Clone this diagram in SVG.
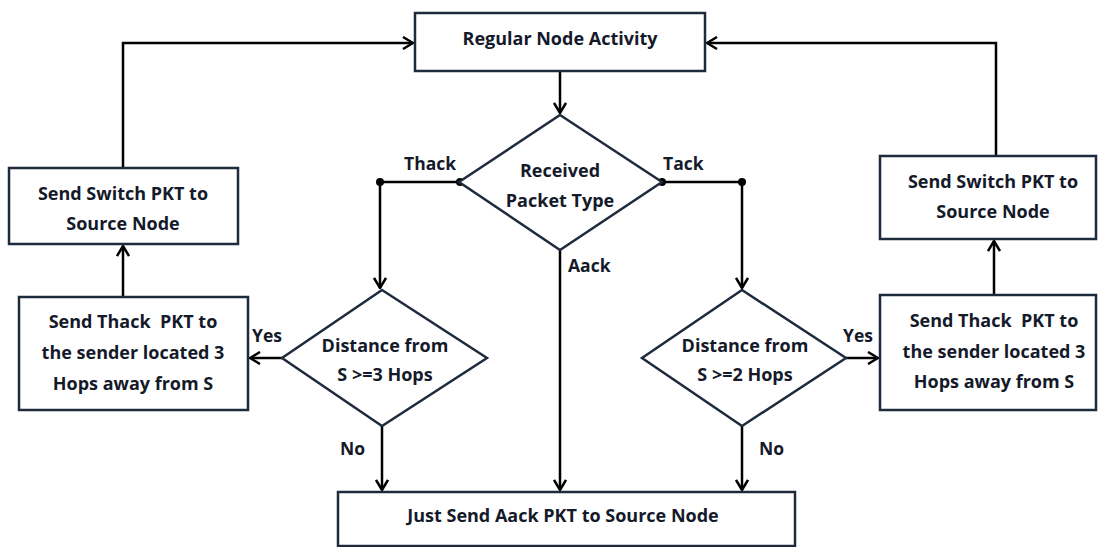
<svg xmlns="http://www.w3.org/2000/svg" width="1103" height="547" viewBox="0 0 1103 547">
  <style>
    .box { fill: #ffffff; stroke: #1e2b3c; stroke-width: 2.5; }
    .t { font-family: "Open Sans", Lato, sans-serif; font-weight: bold; font-size: 18px; fill: #141a2a; text-anchor: middle; white-space: pre; }
    .lbl { font-family: "Open Sans", Lato, sans-serif; font-weight: bold; font-size: 17.5px; fill: #141a2a; }
    .wire { fill: none; stroke: #000000; stroke-width: 2.5; }
    .dot { fill: #000000; }
  </style>
  <defs>
    <marker id="chev" viewBox="0 0 12 14" refX="11" refY="7" markerWidth="12" markerHeight="14" markerUnits="userSpaceOnUse" orient="auto">
      <path d="M1,1 L11,7 L1,13" fill="none" stroke="#000000" stroke-width="2.5"/>
    </marker>
  </defs>
  <rect width="1103" height="547" fill="#ffffff"/>

  <g id="connectors">
    <!-- top box to decision -->
    <path class="wire" d="M560,72 V113" marker-end="url(#chev)"/>
    <!-- Thack branch -->
    <path class="wire" d="M460,182 H380 V288" marker-end="url(#chev)"/>
    <!-- Tack branch -->
    <path class="wire" d="M662,182 H742 V288" marker-end="url(#chev)"/>
    <!-- Aack branch -->
    <path class="wire" d="M560,250 V490" marker-end="url(#chev)"/>
    <!-- No branches -->
    <path class="wire" d="M382,426 V490" marker-end="url(#chev)"/>
    <path class="wire" d="M742,426 V490" marker-end="url(#chev)"/>
    <!-- Yes branches -->
    <path class="wire" d="M282,358 H250" marker-end="url(#chev)"/>
    <path class="wire" d="M846,358 H878" marker-end="url(#chev)"/>
    <!-- Thack boxes up to switch boxes -->
    <path class="wire" d="M123,297 V246" marker-end="url(#chev)"/>
    <path class="wire" d="M994,295 V241" marker-end="url(#chev)"/>
    <!-- switch boxes back to regular activity -->
    <path class="wire" d="M123,168 V43 H413" marker-end="url(#chev)"/>
    <path class="wire" d="M996,156 V43 H707" marker-end="url(#chev)"/>
    <circle class="dot" cx="380" cy="182" r="4"/>
    <circle class="dot" cx="460" cy="182" r="4"/>
    <circle class="dot" cx="662" cy="182" r="4"/>
    <circle class="dot" cx="742" cy="182" r="4"/>
  </g>

  <g id="labels">
    <text class="lbl" x="404" y="170">Thack</text>
    <text class="lbl" x="663" y="170">Tack</text>
    <text class="lbl" x="568" y="272">Aack</text>
    <text class="lbl" x="252" y="342">Yes</text>
    <text class="lbl" x="843" y="342">Yes</text>
    <text class="lbl" x="340" y="455">No</text>
    <text class="lbl" x="759" y="455">No</text>
  </g>

  <g id="regular-activity">
    <rect class="box" x="415" y="13" width="290" height="58"/>
    <text class="t" x="560" y="45">Regular Node Activity</text>
  </g>

  <g id="packet-type">
    <polygon class="box" points="560,115 662,182 560,250 459,182"/>
    <text class="t" x="560" y="177">Received</text>
    <text class="t" x="560" y="207">Packet Type</text>
  </g>

  <g id="distance-3">
    <polygon class="box" points="382,290 487,358 382,426 282,358"/>
    <text class="t" x="385" y="352">Distance from</text>
    <text class="t" x="385" y="381">S &gt;=3 Hops</text>
  </g>

  <g id="distance-2">
    <polygon class="box" points="742,290 846,358 742,426 642,358"/>
    <text class="t" x="745" y="352">Distance from</text>
    <text class="t" x="745" y="381">S &gt;=2 Hops</text>
  </g>

  <g id="switch-left">
    <rect class="box" x="9" y="168" width="229" height="76"/>
    <text class="t" x="123" y="200">Send Switch PKT to</text>
    <text class="t" x="123" y="230">Source Node</text>
  </g>

  <g id="thack-left">
    <rect class="box" x="19" y="297" width="229" height="113"/>
    <text class="t" x="133" y="328" xml:space="preserve">Send Thack  PKT to</text>
    <text class="t" x="133" y="359">the sender located 3</text>
    <text class="t" x="133" y="390">Hops away from S</text>
  </g>

  <g id="switch-right">
    <rect class="box" x="880" y="156" width="216" height="83"/>
    <text class="t" x="993" y="188">Send Switch PKT to</text>
    <text class="t" x="993" y="218">Source Node</text>
  </g>

  <g id="thack-right">
    <rect class="box" x="880" y="295" width="216" height="115"/>
    <text class="t" x="994" y="327" xml:space="preserve">Send Thack  PKT to</text>
    <text class="t" x="994" y="358">the sender located 3</text>
    <text class="t" x="994" y="388">Hops away from S</text>
  </g>

  <g id="aack-send">
    <rect class="box" x="338" y="492" width="457" height="54"/>
    <text class="t" x="563" y="522">Just Send Aack PKT to Source Node</text>
  </g>
</svg>
